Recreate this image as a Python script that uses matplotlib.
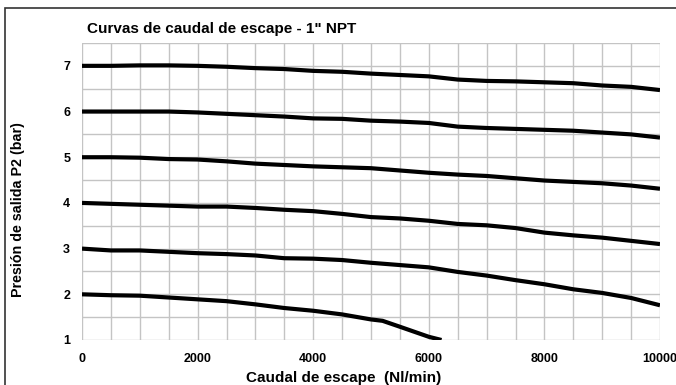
import matplotlib
matplotlib.use("Agg")
import matplotlib.pyplot as plt
from matplotlib.patches import Rectangle

plt.rcParams["font.family"] = ["Liberation Sans", "DejaVu Sans"]
plt.rcParams["font.weight"] = "bold"

# caudal (Nl/min) sampled every 500
flow = [0, 500, 1000, 1500, 2000, 2500, 3000, 3500, 4000, 4500, 5000,
        5500, 6000, 6500, 7000, 7500, 8000, 8500, 9000, 9500, 10000]

p7 = [7.00, 7.00, 7.01, 7.01, 7.00, 6.98, 6.95, 6.93, 6.89, 6.87, 6.83,
      6.80, 6.77, 6.70, 6.67, 6.66, 6.64, 6.62, 6.57, 6.54, 6.47]
p6 = [6.00, 6.00, 6.00, 6.00, 5.98, 5.95, 5.92, 5.89, 5.85, 5.84, 5.80,
      5.78, 5.75, 5.67, 5.64, 5.62, 5.60, 5.58, 5.54, 5.50, 5.43]
p5 = [5.00, 5.00, 4.99, 4.96, 4.95, 4.91, 4.86, 4.83, 4.80, 4.78, 4.76,
      4.71, 4.66, 4.62, 4.59, 4.54, 4.49, 4.46, 4.43, 4.38, 4.31]
p4 = [4.00, 3.98, 3.96, 3.94, 3.92, 3.92, 3.89, 3.85, 3.82, 3.76, 3.69,
      3.66, 3.61, 3.54, 3.51, 3.45, 3.35, 3.29, 3.24, 3.17, 3.10]
p3 = [3.00, 2.96, 2.96, 2.93, 2.90, 2.88, 2.85, 2.79, 2.78, 2.75, 2.69,
      2.64, 2.59, 2.49, 2.41, 2.31, 2.22, 2.11, 2.03, 1.92, 1.76]

# the 2 bar curve stops where it reaches 1 bar
flow2 = [0, 500, 1000, 1500, 2000, 2500, 3000, 3500, 4000, 4500, 5000,
         5200, 5500, 6000, 6220]
p2 = [2.00, 1.98, 1.97, 1.93, 1.89, 1.85, 1.78, 1.70, 1.64, 1.56, 1.45,
      1.42, 1.29, 1.07, 1.00]

xticks = [0, 2000, 4000, 6000, 8000, 10000]
yticks = [1, 2, 3, 4, 5, 6, 7]

fig = plt.figure(figsize=(6.76, 3.85), dpi=100)
ax = fig.add_axes([82 / 676, 1 - 340 / 385, 578 / 676, 297 / 385])

for ys in (p7, p6, p5, p4, p3):
    ax.plot(flow, ys, color="black", lw=3, solid_capstyle="butt", zorder=3)
ax.plot(flow2, p2, color="black", lw=3, solid_capstyle="butt", zorder=3)

ax.set_xlim(0, 10000)
ax.set_ylim(1, 7.5)
ax.set_xticks(range(0, 10001, 500), minor=True)
ax.set_yticks([v / 2 for v in range(2, 16)], minor=True)
ax.set_xticks(xticks)
ax.set_yticks(yticks)
ax.set_xticklabels([str(v) for v in xticks], fontsize=9, fontweight="bold")
ax.set_yticklabels([str(v) for v in yticks], fontsize=9, fontweight="bold")
ax.grid(which="both", color="#c4c4c4", lw=1)
ax.tick_params(which="both", length=0)
ax.tick_params(axis="x", pad=9)
ax.tick_params(axis="y", pad=8.5)
for s in ax.spines.values():
    s.set_visible(False)
ax.set_axisbelow(True)

ax.set_xlabel("Caudal de escape  (Nl/min)", fontsize=11, fontweight="bold")
ax.xaxis.set_label_coords(0.453, -0.105)
ax.set_ylabel("Presión de salida P2 (bar)", fontsize=10.3, fontweight="bold")
ax.yaxis.set_label_coords(-0.098, 0.438)
fig.text(87 / 676, 1 - 29 / 385, 'Curvas de caudal de escape - 1" NPT',
         fontsize=11, fontweight="bold", va="center", ha="left")

# frame around the whole chart
fig.patches.append(Rectangle((5 / 676, -0.1), 1.2, 1 - 8 / 385 + 0.1,
                             transform=fig.transFigure, fill=False,
                             edgecolor="#333333", lw=1.2))

fig.savefig("out.png", dpi=100)
